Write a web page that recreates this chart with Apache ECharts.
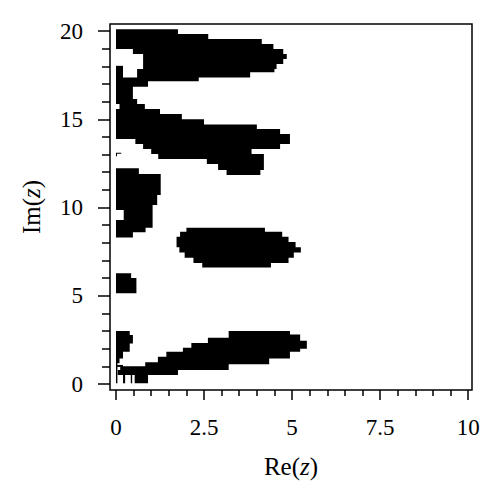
<!DOCTYPE html>
<html>
<head>
<meta charset="utf-8">
<script src="https://cdn.jsdelivr.net/npm/echarts@6/dist/echarts.min.js"></script>
<style>html,body{margin:0;padding:0;background:#fff;}#c{width:498px;height:500px;}</style>
</head>
<body>
<div id="c"></div>
<script>
// Region rows as [x0, x1, y0, y1], listed top to bottom
var topBand = [
  [0, 1.76, 19.83, 20.1], [0, 2.62, 19.55, 19.83], [0, 4.14, 19.26, 19.55],
  [0, 4.47, 18.98, 19.26], [0.48, 4.75, 18.70, 18.98], [0.77, 4.85, 18.41, 18.70],
  [0.77, 4.75, 18.13, 18.41], [0.77, 4.56, 17.85, 18.13], [0.6, 4.5, 17.66, 17.85],
  [0.6, 3.81, 17.37, 17.66], [0, 2.35, 17.15, 17.37],
  [0, 0.91, 16.85, 17.15], [0, 0.48, 16.15, 16.85]
];
var leftStrip = [
  [0, 0.2, 17.3, 18.03]
];
var upperBand = [
  [0, 0.6, 15.86, 16.15], [0.1, 0.82, 15.58, 15.86], [0, 1.25, 15.3, 15.58],
  [0, 1.87, 15.0, 15.3], [0, 2.5, 14.7, 15.0], [0, 4.0, 14.45, 14.7],
  [0, 4.66, 14.16, 14.45], [0, 4.94, 13.88, 14.16], [0.55, 4.94, 13.6, 13.88],
  [0.77, 4.66, 13.31, 13.6], [1.0, 3.85, 13.03, 13.31], [1.2, 4.2, 12.75, 13.03],
  [2.58, 4.2, 12.47, 12.75], [2.9, 4.2, 12.12, 12.47], [3.14, 4.1, 11.84, 12.12]
];
var markCells = [
  [0, 0.15, 13.05, 13.11], [0, 0.03, 12.9, 13.05]
];
var leftMidBlock = [
  [0, 0.65, 11.9, 12.22], [0, 1.27, 10.71, 11.9], [0, 1.17, 10.14, 10.71],
  [0, 1.04, 9.86, 10.14], [0.22, 1.04, 9.3, 9.86], [0, 1.04, 8.86, 9.3],
  [0, 0.84, 8.6, 8.86], [0, 0.48, 8.3, 8.6]
];
var middleBand = [
  [2.0, 4.23, 8.63, 8.85], [1.82, 4.72, 8.35, 8.63], [1.72, 4.9, 8.05, 8.35],
  [1.72, 5.1, 7.75, 8.05], [1.8, 5.25, 7.45, 7.75], [1.95, 5.05, 7.15, 7.45],
  [2.2, 4.9, 6.85, 7.15], [2.45, 4.4, 6.6, 6.85]
];
var smallBlock = [
  [0, 0.43, 6.0, 6.27], [0, 0.58, 5.14, 6.0]
];
var lowerLeftBlock = [
  [0, 0.39, 2.78, 3.0], [0, 0.48, 2.3, 2.78], [0, 0.39, 1.83, 2.3],
  [0, 0.2, 1.45, 1.83], [0, 0.1, 1.17, 1.45], [0, 0.04, 0.04, 1.17]
];
var lowerHook = [
  [0.02, 0.2, 0.97, 1.08]
];
var lowerBar1 = [
  [0.2, 0.26, 0.04, 0.56]
];
var lowerBar2 = [
  [0.42, 0.46, 0.04, 0.56]
];
var lowerBand = [
  [3.2, 4.94, 2.8, 3.0], [3.2, 5.23, 2.62, 2.8], [2.61, 5.23, 2.45, 2.62],
  [2.61, 5.42, 2.33, 2.45], [2.14, 5.42, 2.05, 2.33], [1.9, 5.42, 2.0, 2.05],
  [1.9, 5.23, 1.83, 2.0], [1.43, 4.94, 1.55, 1.83], [1.19, 4.94, 1.45, 1.55],
  [1.19, 4.35, 1.23, 1.45], [0.83, 4.35, 1.12, 1.23], [0.83, 3.2, 1.0, 1.12],
  [0.12, 3.2, 0.79, 1.0], [0.05, 1.76, 0.51, 0.79], [0.53, 0.91, 0.04, 0.51]
];

var xMajorTicks = [0, 2.5, 5, 7.5, 10];
var xMinorTicks = [0.5, 1, 1.5, 2, 3, 3.5, 4, 4.5, 5.5, 6, 6.5, 7, 8, 8.5, 9, 9.5];
var yMajorTicks = [0, 5, 10, 15, 20];
var yMinorTicks = [1, 2, 3, 4, 6, 7, 8, 9, 11, 12, 13, 14, 16, 17, 18, 19];

var FONT = 'Liberation Serif';
// each chain is a stack of touching rows, filled as one outline
var chains = [topBand.concat(upperBand), leftStrip, markCells, leftMidBlock, middleBand,
  smallBlock, lowerLeftBlock, lowerHook, lowerBar1, lowerBar2, lowerBand];

var chart = echarts.init(document.getElementById('c'), null, {renderer: 'svg'});
var xr = {min: -0.17, max: 10.11};
var yr = {min: -0.34, max: 20.4};
var labelStyle = {color: '#000', fontFamily: FONT, fontSize: 23};
var nameStyle = {color: '#000', fontFamily: FONT, fontSize: 25, rich: {i: {fontStyle: 'italic', fontFamily: FONT, fontSize: 25, color: '#000'}}};
chart.setOption({
  animation: false,
  backgroundColor: '#fff',
  grid: {left: 110, right: 26, top: 24, bottom: 110, show: true, borderColor: '#000', borderWidth: 1.5, backgroundColor: 'transparent'},
  xAxis: [{
    type: 'value', min: xr.min, max: xr.max, position: 'bottom',
    axisLine: {show: false, onZero: false},
    splitLine: {show: false},
    axisTick: {show: true, inside: false, length: 10, lineStyle: {color: '#000', width: 1.5}, customValues: xMajorTicks},
    axisLabel: Object.assign({show: true, margin: 26, customValues: xMajorTicks}, labelStyle),
    name: 'Re({i|z})', nameLocation: 'middle', nameGap: 64,
    nameTextStyle: nameStyle
  }, {
    type: 'value', min: xr.min, max: xr.max, position: 'bottom',
    axisLine: {show: false, onZero: false},
    splitLine: {show: false},
    axisTick: {show: true, inside: false, length: 6, lineStyle: {color: '#000', width: 1.5}, customValues: xMinorTicks},
    axisLabel: {show: false}
  }],
  yAxis: [{
    type: 'value', min: yr.min, max: yr.max, position: 'left',
    axisLine: {show: false, onZero: false},
    splitLine: {show: false},
    axisTick: {show: true, inside: false, length: 12, lineStyle: {color: '#000', width: 1.5}, customValues: yMajorTicks},
    axisLabel: Object.assign({show: true, margin: 27, customValues: yMajorTicks}, labelStyle),
    name: 'Im({i|z})', nameLocation: 'middle', nameGap: 66,
    nameTextStyle: nameStyle
  }, {
    type: 'value', min: yr.min, max: yr.max, position: 'left',
    axisLine: {show: false, onZero: false},
    splitLine: {show: false},
    axisTick: {show: true, inside: false, length: 8, lineStyle: {color: '#000', width: 1.5}, customValues: yMinorTicks},
    axisLabel: {show: false}
  }],
  series: [{
    type: 'custom',
    xAxisIndex: 0, yAxisIndex: 0,
    clip: true,
    data: chains.map(function (c, i) { return [0, 0, i]; }),
    encode: {x: 0, y: 1},
    renderItem: function (params, api) {
      var rows = chains[params.dataIndex];
      var pts = [];
      var k, r;
      for (k = 0; k < rows.length; k++) {
        r = rows[k];
        pts.push(api.coord([r[1], r[3]]));
        pts.push(api.coord([r[1], r[2]]));
      }
      for (k = rows.length - 1; k >= 0; k--) {
        r = rows[k];
        pts.push(api.coord([r[0], r[2]]));
        pts.push(api.coord([r[0], r[3]]));
      }
      return {
        type: 'polygon',
        shape: {points: pts},
        style: {fill: '#000', stroke: null, lineWidth: 0}
      };
    }
  }]
});
</script>
</body>
</html>
